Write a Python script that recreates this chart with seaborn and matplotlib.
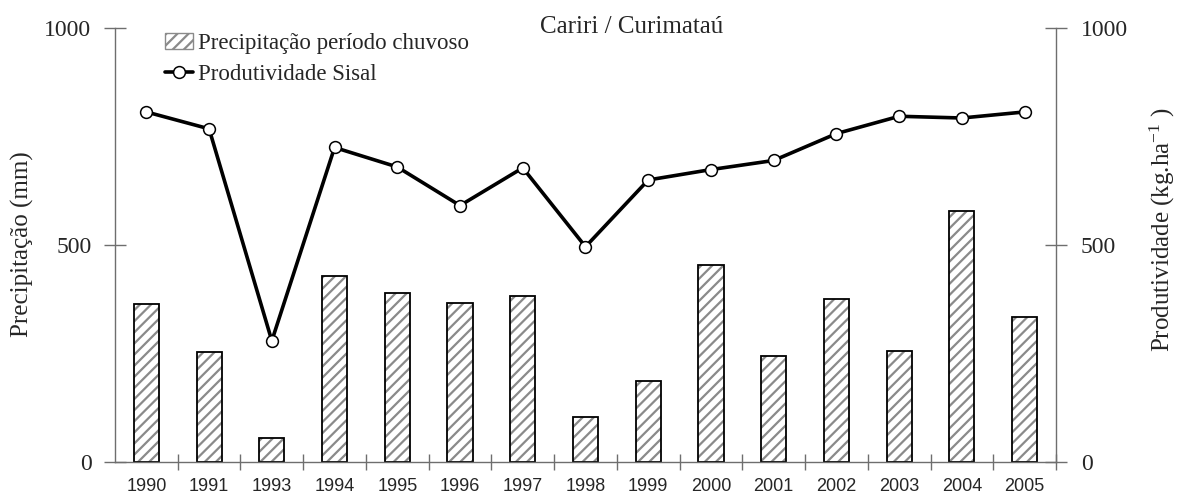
import matplotlib
matplotlib.use("Agg")
import matplotlib.pyplot as plt
import matplotlib.patches as mpatches
import matplotlib.lines as mlines
from matplotlib.ticker import FixedLocator
import numpy as np
import pandas as pd
import seaborn as sns

# Rainy-season precipitation and sisal productivity, Cariri / Curimataú
anos = ["1990", "1991", "1993", "1994", "1995", "1996", "1997", "1998",
        "1999", "2000", "2001", "2002", "2003", "2004", "2005"]
precipitacao = [365, 252, 55, 428, 390, 367, 382, 104,
                187, 454, 245, 375, 256, 578, 333]
produtividade = [807, 768, 279, 725, 680, 591, 678, 496,
                 650, 674, 695, 757, 797, 793, 807]
yticks = [0, 500, 1000]

sns.set_theme(style="white")
plt.rcParams["font.family"] = ["Liberation Serif", "DejaVu Serif"]
plt.rcParams["mathtext.default"] = "regular"
plt.rcParams["hatch.linewidth"] = 1.6
plt.rcParams["hatch.color"] = "#8a8a8a"

df = pd.DataFrame({"ano": anos, "prec": precipitacao, "prod": produtividade})

fig = plt.figure(figsize=(11.77, 4.97), dpi=100)
ax = fig.add_axes([0.0977, 0.0710, 0.7995, 0.8721])

spine_col = "#6e6e6e"
tick_size = 17
label_size = 18

# hatched fill, then the black outline on top
sns.barplot(data=df, x="ano", y="prec", ax=ax, color="white", width=0.40,
            edgecolor="#8a8a8a", linewidth=0, hatch="///", saturation=1)
sns.barplot(data=df, x="ano", y="prec", ax=ax, color="black", width=0.40,
            fill=False, linewidth=1.3)

ax2 = ax.twinx()
sns.pointplot(data=df, x="ano", y="prod", ax=ax2, color="black",
              markers="o", linestyles="-", errorbar=None,
              linewidth=2.6, markersize=8.5, markerfacecolor="white",
              markeredgecolor="black", markeredgewidth=1.1)

for a in (ax, ax2):
    a.set_ylim(0, 1000)
    a.set_yticks(yticks)
    a.set_xlim(-0.5, len(anos) - 0.5)
    for s in a.spines.values():
        s.set_color(spine_col)
        s.set_linewidth(1.0)
    a.spines["top"].set_visible(False)

ax.spines["right"].set_visible(False)
ax2.spines["left"].set_visible(False)
ax2.spines["bottom"].set_visible(False)

# y axes: crossing ticks in serif
ax.tick_params(axis="y", which="major", direction="inout", length=16,
               width=1.0, color=spine_col, pad=9, labelsize=tick_size,
               left=True, right=False)
ax2.tick_params(axis="y", which="major", direction="inout", length=16,
                width=1.0, color=spine_col, pad=10, labelsize=tick_size,
                right=True, left=False)

# x axis: labels at the category centres, ticks on the boundaries
ax.set_xticks(range(len(anos)))
ax.set_xticklabels(anos, fontfamily="Liberation Sans", fontsize=13)
ax.tick_params(axis="x", which="major", length=0, pad=12, bottom=True)
ax.xaxis.set_minor_locator(FixedLocator(np.arange(len(anos)) + 0.5))
ax.tick_params(axis="x", which="minor", direction="inout", length=11,
               width=1.0, color=spine_col, bottom=True)
ax2.tick_params(axis="x", which="both", bottom=False, labelbottom=False)

ax.set_xlabel("")
ax2.set_xlabel("")
ax.set_ylabel("Precipitação (mm)", fontsize=label_size)
ax2.set_ylabel("Produtividade (kg.ha$^{-1}$ )", fontsize=label_size)
ax.yaxis.set_label_coords(-0.086, 0.502)
ax2.yaxis.set_label_coords(1.0977, 0.535)

fig.text(0.537, 0.945, "Cariri / Curimataú", ha="center", va="center",
         fontsize=18)

h_bar = mpatches.Patch(facecolor="white", edgecolor="#8a8a8a", hatch="///",
                       linewidth=1.0)
h_line = mlines.Line2D([], [], color="black", linewidth=2.6, marker="o",
                       markersize=8.5, markerfacecolor="white",
                       markeredgecolor="black", markeredgewidth=1.1)
fig.legend([h_bar, h_line],
           ["Precipitação período chuvoso", "Produtividade Sisal"],
           loc="upper left", bbox_to_anchor=(0.140, 0.933), frameon=False,
           fontsize=16.5, handlelength=1.25, handletextpad=0.2,
           labelspacing=0.44, borderpad=0, borderaxespad=0)

fig.savefig("out.png", dpi=100)
